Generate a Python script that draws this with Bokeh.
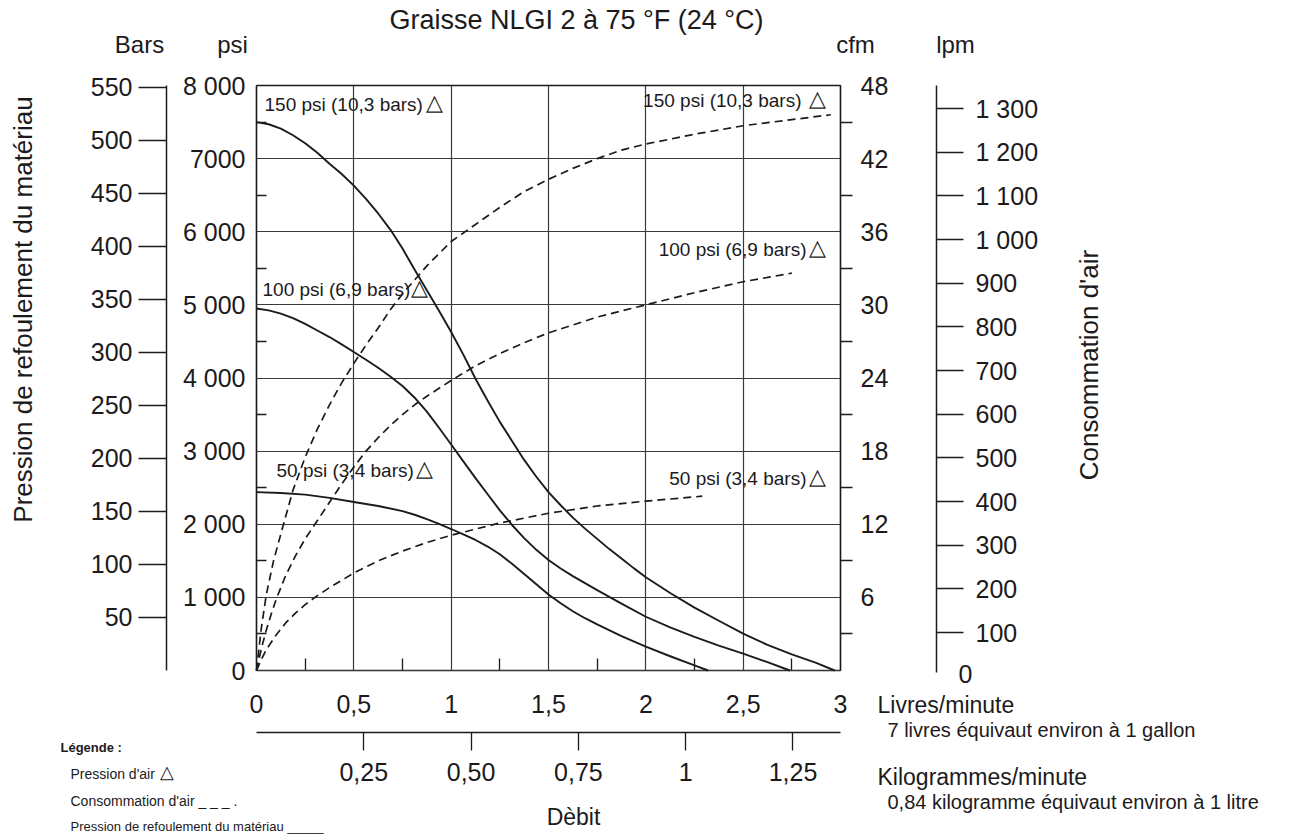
import math
from bokeh.plotting import figure
from bokeh.models import Range1d, LinearAxis, FixedTicker, Label
from bokeh.embed import file_html
from bokeh.resources import INLINE

FONT = "Liberation Sans"
INK = "#1c1a1b"
GRIDC = "#3a3a3a"

# ---------------- data ----------------
flow_lb_ticks = [0, 0.5, 1, 1.5, 2, 2.5, 3]
flow_lb_labels = ["0", "0,5", "1", "1,5", "2", "2,5", "3"]
flow_lb_minor = [0.25, 0.75, 1.25, 1.75, 2.25, 2.75]
flow_kg_ticks = [0.25, 0.5, 0.75, 1, 1.25]
flow_kg_labels = ["0,25", "0,50", "0,75", "1", "1,25"]
psi_ticks = [0, 1000, 2000, 3000, 4000, 5000, 6000, 7000, 8000]
psi_labels = ["0", "1 000", "2 000", "3 000", "4 000", "5 000", "6 000", "7000", "8 000"]
psi_minor = [500, 1500, 2500, 3500, 4500, 5500, 6500, 7500]
bar_ticks = [50, 100, 150, 200, 250, 300, 350, 400, 450, 500, 550]
cfm_ticks = [6, 12, 18, 24, 30, 36, 42, 48]
cfm_minor = [3, 9, 15, 21, 27, 33, 39, 45]
lpm_ticks = [100, 200, 300, 400, 500, 600, 700, 800, 900, 1000, 1100, 1200, 1300]
lpm_labels = ["100", "200", "300", "400", "500", "600", "700", "800", "900",
              "1 000", "1 100", "1 200", "1 300"]

# material outlet pressure (psi) vs flow (lb/min)
mat150_flow = [0, 0.0625, 0.125, 0.1875, 0.25, 0.3125, 0.375, 0.4375, 0.5, 0.5625,
               0.625, 0.6875, 0.75, 0.8125, 0.875, 0.9375, 1.0, 1.0625, 1.125, 1.1875,
               1.25, 1.3125, 1.375, 1.4375, 1.5, 1.5625, 1.625, 1.6875, 1.75, 1.8125,
               1.875, 1.9375, 2.0, 2.125, 2.25, 2.375, 2.5, 2.625, 2.75, 2.875, 2.97]
mat150_psi = [7500, 7470, 7410, 7320, 7210, 7080, 6930, 6790, 6630, 6450,
              6250, 6030, 5770, 5480, 5200, 4920, 4630, 4320, 3990, 3690,
              3400, 3140, 2880, 2650, 2440, 2260, 2090, 1940, 1800, 1660,
              1530, 1400, 1276, 1060, 860, 680, 505, 350, 220, 105, 0]

mat100_flow = [0, 0.0625, 0.125, 0.1875, 0.25, 0.3125, 0.375, 0.4375, 0.5, 0.5625,
               0.625, 0.6875, 0.75, 0.8125, 0.875, 0.9375, 1.0, 1.0625, 1.125, 1.1875,
               1.25, 1.3125, 1.375, 1.4375, 1.5, 1.5625, 1.625, 1.6875, 1.75, 1.875,
               2.0, 2.125, 2.25, 2.375, 2.5, 2.625, 2.74]
mat100_psi = [4950, 4925, 4880, 4820, 4740, 4650, 4560, 4460, 4355, 4250,
              4140, 4020, 3890, 3730, 3540, 3320, 3090, 2860, 2630, 2410,
              2190, 1990, 1810, 1650, 1510, 1395, 1290, 1195, 1100, 915,
              735, 590, 460, 340, 230, 115, 0]

mat50_flow = [0, 0.125, 0.25, 0.375, 0.5, 0.625, 0.75, 0.8125, 0.875, 0.9375, 1.0,
              1.0625, 1.125, 1.1875, 1.25, 1.3125, 1.375, 1.4375, 1.5, 1.5625, 1.625,
              1.6875, 1.75, 1.875, 2.0, 2.125, 2.25, 2.32]
mat50_psi = [2440, 2428, 2405, 2360, 2305, 2250, 2180, 2130, 2070, 2005, 1935,
             1860, 1785, 1695, 1590, 1460, 1320, 1180, 1040, 920, 810,
             715, 630, 470, 325, 195, 70, 0]

# air consumption (cfm) vs flow (lb/min)
air150_flow = [0, 0.025, 0.05, 0.0875, 0.125, 0.1875, 0.25, 0.3125, 0.375, 0.4375, 0.5,
               0.5625, 0.625, 0.6875, 0.75, 0.875, 1.0, 1.125, 1.25, 1.375, 1.5, 1.625,
               1.75, 1.875, 2.0, 2.25, 2.5, 2.75, 2.95]
air150_cfm = [0, 3.5, 6.2, 9.0, 11.2, 14.8, 17.5, 19.8, 21.8, 23.6, 25.2,
              26.7, 28.1, 29.6, 30.9, 33.2, 35.2, 36.6, 38.0, 39.3, 40.3, 41.2,
              42.0, 42.7, 43.2, 44.0, 44.7, 45.2, 45.6]

air100_flow = [0, 0.025, 0.05, 0.075, 0.1, 0.15, 0.2, 0.25, 0.3, 0.375, 0.4375, 0.5,
               0.5625, 0.625, 0.6875, 0.75, 0.8125, 0.875, 1.0, 1.125, 1.25, 1.375, 1.5,
               1.75, 2.0, 2.25, 2.5, 2.75]
air100_cfm = [0, 1.8, 3.3, 4.6, 5.8, 7.8, 9.4, 10.8, 12.0, 13.8, 15.3, 16.7,
              18.0, 19.1, 20.1, 21.0, 21.8, 22.5, 23.8, 25.0, 26.0, 26.9, 27.7,
              29.0, 30.0, 31.0, 31.9, 32.6]

air50_flow = [0, 0.025, 0.05, 0.075, 0.1, 0.15, 0.2, 0.25, 0.3, 0.375, 0.4375, 0.5,
              0.5625, 0.625, 0.75, 0.875, 1.0, 1.125, 1.25, 1.375, 1.5, 1.75, 2.0, 2.29]
air50_cfm = [0, 0.9, 1.7, 2.3, 2.9, 3.9, 4.7, 5.4, 6.0, 6.8, 7.4, 8.0,
             8.5, 9.0, 9.8, 10.5, 11.1, 11.6, 12.1, 12.5, 12.9, 13.5, 13.9, 14.3]

PSI_PER_BAR = 14.5038
LB_PER_KG = 2.20462
CFM_MAX, PSI_MAX, LB_MAX = 48, 8000, 3

# ---------------- layout geometry (pixels) ----------------
W, H = 1295, 839
BOX_L, BOX_R, BOX_T, BOX_B = 256, 840, 85, 670
LB_PER_PX = LB_MAX / (BOX_R - BOX_L)
PSI_PER_PX = PSI_MAX / (BOX_B - BOX_T)
LPM0_PX, LPM_PER_PX = 675.7, 1 / 0.43667


def dx(px):
    return (px - BOX_L) * LB_PER_PX


def dy(py):
    return (BOX_B - py) * PSI_PER_PX


def lpm_at(py):
    return (LPM0_PX - py) * LPM_PER_PX


p = figure(width=W, height=H, output_backend="svg", toolbar_location=None,
           x_axis_type=None, y_axis_type=None, min_border=0,
           x_range=Range1d(dx(0), dx(W)), y_range=Range1d(dy(H), dy(0)))
p.background_fill_color = "white"
p.border_fill_color = "white"
p.outline_line_color = None

p.extra_y_ranges = {
    "bar": Range1d(dy(H) / PSI_PER_BAR, dy(0) / PSI_PER_BAR),
    "cfm": Range1d(dy(H) * CFM_MAX / PSI_MAX, dy(0) * CFM_MAX / PSI_MAX),
    "lpm": Range1d(lpm_at(H), lpm_at(0)),
}
p.extra_x_ranges = {"kg": Range1d(dx(0) / LB_PER_KG, dx(W) / LB_PER_KG)}


def style(ax, size="25px"):
    ax.major_label_text_font = FONT
    ax.major_label_text_font_size = size
    ax.major_label_text_color = INK
    ax.axis_line_color = INK
    ax.axis_line_width = 1.5
    ax.major_tick_line_color = INK
    ax.major_tick_line_width = 1.3
    ax.minor_tick_line_color = INK
    ax.minor_tick_line_width = 1.3
    ax.major_tick_in = 0
    ax.major_tick_out = 0
    ax.minor_tick_in = 0
    ax.minor_tick_out = 0


# psi axis (left edge of the box); its long inner ticks form the horizontal grid
psi_axis = LinearAxis(fixed_location=0, bounds=(0, PSI_MAX),
                      ticker=FixedTicker(ticks=psi_ticks, minor_ticks=psi_minor))
style(psi_axis)
psi_axis.major_label_overrides = dict(zip(psi_ticks, psi_labels))
psi_axis.major_tick_in = BOX_R - BOX_L
psi_axis.major_tick_line_color = GRIDC
psi_axis.major_tick_line_width = 1.2
psi_axis.minor_tick_in = 10
psi_axis.major_label_standoff = 11
psi_axis.level = "underlay"
p.add_layout(psi_axis, "left")

# bars axis
bar_axis = LinearAxis(y_range_name="bar", fixed_location=dx(166),
                      bounds=(0, PSI_MAX / PSI_PER_BAR), ticker=FixedTicker(ticks=bar_ticks))
style(bar_axis)
bar_axis.major_tick_out = 28
bar_axis.major_label_standoff = 6
p.add_layout(bar_axis, "left")

# lb/min axis (bottom edge of the box); long inner ticks form the vertical grid
lb_axis = LinearAxis(fixed_location=0, bounds=(0, LB_MAX),
                     ticker=FixedTicker(ticks=flow_lb_ticks, minor_ticks=flow_lb_minor))
style(lb_axis)
lb_axis.major_label_overrides = dict(zip(flow_lb_ticks, flow_lb_labels))
lb_axis.major_tick_in = BOX_B - BOX_T
lb_axis.major_tick_line_color = GRIDC
lb_axis.major_tick_line_width = 1.2
lb_axis.minor_tick_in = 12
lb_axis.major_label_standoff = 24
lb_axis.level = "underlay"
p.add_layout(lb_axis, "below")

# top edge of the box
top_axis = LinearAxis(fixed_location=PSI_MAX, bounds=(0, LB_MAX), ticker=FixedTicker(ticks=[]))
style(top_axis)
p.add_layout(top_axis, "above")

# cfm axis (right edge of the box)
cfm_axis = LinearAxis(y_range_name="cfm", fixed_location=LB_MAX, bounds=(0, CFM_MAX),
                      ticker=FixedTicker(ticks=cfm_ticks, minor_ticks=cfm_minor))
style(cfm_axis)
cfm_axis.minor_tick_out = 12
cfm_axis.major_label_standoff = 8
p.add_layout(cfm_axis, "right")

# lpm axis
lpm_axis = LinearAxis(y_range_name="lpm", fixed_location=dx(936),
                      bounds=(lpm_at(672), lpm_at(BOX_T)), ticker=FixedTicker(ticks=lpm_ticks))
style(lpm_axis)
lpm_axis.major_tick_out = 27
lpm_axis.major_label_standoff = 12
lpm_axis.major_label_overrides = dict(zip(lpm_ticks, lpm_labels))
p.add_layout(lpm_axis, "right")

# kg/min axis
kg_axis = LinearAxis(x_range_name="kg", fixed_location=dy(732),
                     bounds=(0, LB_MAX / LB_PER_KG), ticker=FixedTicker(ticks=flow_kg_ticks))
style(kg_axis)
kg_axis.major_tick_out = 18
kg_axis.major_label_standoff = 12
kg_axis.major_label_overrides = dict(zip(flow_kg_ticks, flow_kg_labels))
p.add_layout(kg_axis, "below")

# curves
for fx, fy in ((mat150_flow, mat150_psi), (mat100_flow, mat100_psi), (mat50_flow, mat50_psi)):
    p.line(fx, fy, line_color=INK, line_width=1.9, line_join="round")
for fx, fy in ((air150_flow, air150_cfm), (air100_flow, air100_cfm), (air50_flow, air50_cfm)):
    p.line(fx, fy, y_range_name="cfm", line_color=INK, line_width=1.7,
           line_dash="8 5", line_join="round")


# ---------------- texts ----------------
def txt(s, px, py, size, align="left", bold=False, angle=0.0):
    p.add_layout(Label(x=dx(px), y=dy(py), text=s, text_font=FONT,
                       text_font_size=size, text_color=INK, text_align=align,
                       text_baseline="middle", angle=angle,
                       text_font_style="bold" if bold else "normal"))


txt("Graisse NLGI 2 à 75 °F (24 °C)", 576, 19, "27px", "center")
txt("Bars", 139, 44, "24px", "center")
txt("psi", 232, 44, "24px", "center")
txt("cfm", 855, 44, "24px", "center")
txt("lpm", 955, 44, "24px", "center")

TRI = "\u25b3"
txt("150 psi (10,3 bars)", 264, 104, "19px")
txt(TRI, 434, 102, "22px", "center")
txt("100 psi (6,9 bars)", 262, 289, "19px")
txt(TRI, 419, 287, "22px", "center")
txt("50 psi (3,4 bars)", 276, 470, "19px")
txt(TRI, 424, 468, "22px", "center")
txt("150 psi (10,3 bars)", 801, 100, "19px", "right")
txt(TRI, 817, 98, "22px", "center")
txt("100 psi (6,9 bars)", 806, 249, "19px", "right")
txt(TRI, 817, 247, "22px", "center")
txt("50 psi (3,4 bars)", 806, 478, "19px", "right")
txt(TRI, 817, 476, "22px", "center")

txt("0", 965, 673, "25px", "center")

txt("Pression de refoulement du matériau", 22, 309, "26px", "center", angle=math.pi / 2)
txt("Consommation  d'air", 1088, 361, "26px", "center", angle=math.pi / 2)

txt("Livres/minute", 877, 704, "23px")
txt("7 livres équivaut environ à 1 gallon", 887, 729, "20px")
txt("Kilogrammes/minute", 877, 776, "23px")
txt("0,84 kilogramme équivaut environ à 1 litre", 887, 801, "20px")
txt("Dèbit", 573, 816, "23px", "center")

txt("Légende :", 60, 747, "13px", bold=True)
txt("Pression d'air", 70, 773, "14px")
txt(TRI, 166, 771, "18px", "center")
txt("Consommation d'air _ _ _ .", 70, 800, "14px")
txt("Pression de refoulement du matériau _____", 70, 826, "13px")

open("out.html", "w").write(file_html(p, INLINE))
